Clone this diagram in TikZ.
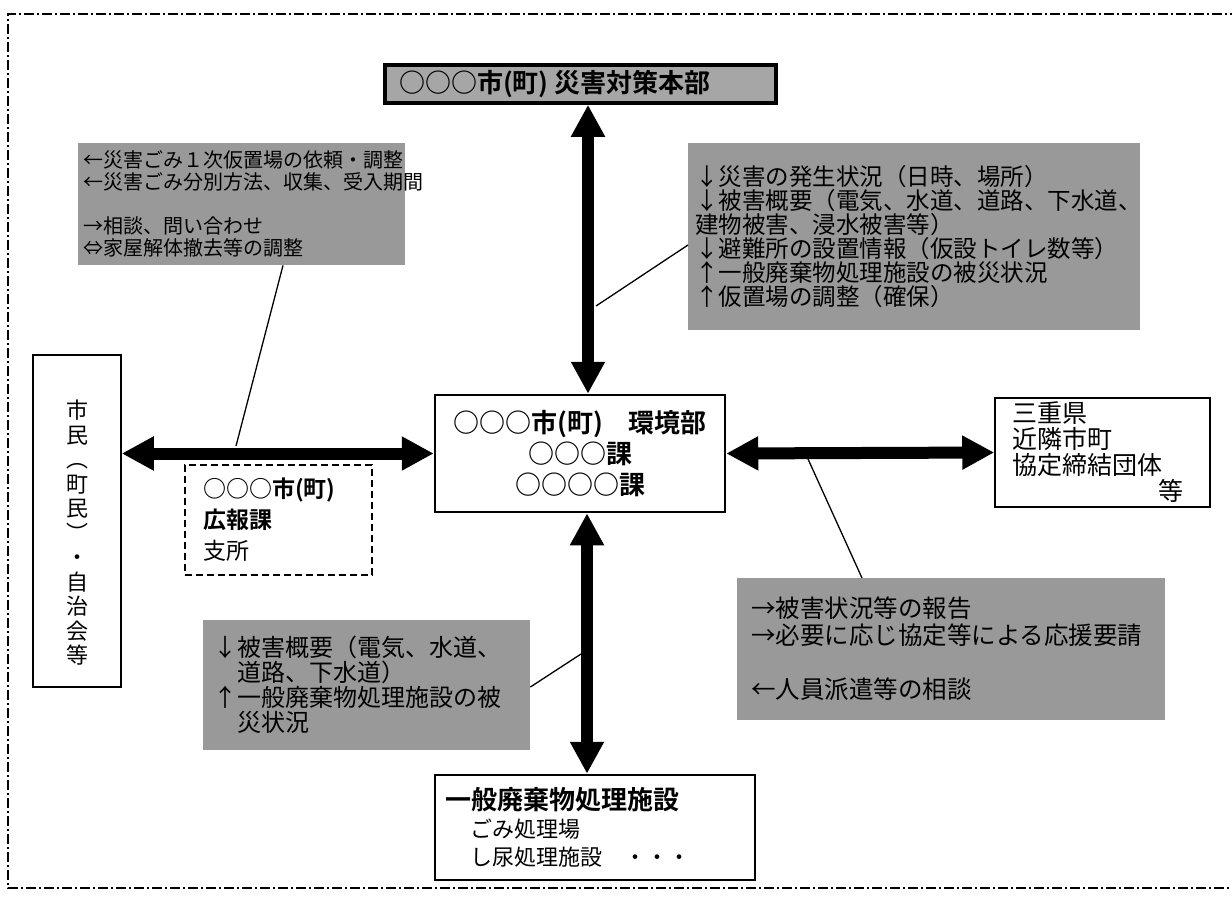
\documentclass[tikz,border=0pt]{standalone}
\usepackage{fontspec}
\setmainfont{Noto Sans CJK JP}[BoldFont={Noto Sans CJK JP Bold}]
\usetikzlibrary{arrows.meta, calc}

\newcommand{\fs}[2]{\fontsize{#1}{#2}\selectfont}

\begin{document}
\begin{tikzpicture}[
    x=1pt, y=-1pt,
    box_main/.style={draw, fill=white, inner sep=0pt},
    note_box/.style={fill=black!40, anchor=north west, align=left, inner ysep=0pt},
    big_arrow/.style={{Triangle[width=32pt,length=32pt]}-{Triangle[width=32pt,length=32pt]}, line width=12pt},
    pointer/.style={line width=1.3pt},
    frame_line/.style={line width=2.2pt, dash pattern=on 10pt off 3pt on 2pt off 3pt}
]
\useasboundingbox (0,0) rectangle (1232,897);

% outer frame
\draw[frame_line] (1240,14) -- (8,14) -- (8,888) -- (1240,888);

% main boxes
\node[box_main, fill=black!35, line width=3.5pt, minimum height=38pt, text width=363pt, inner xsep=14pt,
      align=left, font=\fs{26}{28}\bfseries] (honbu) at (580.5,84) {○○○市(町)\hspace{6pt}災害対策本部};
\node[box_main, line width=2.5pt, minimum width=290pt, minimum height=117pt, align=center,
      font=\fs{26}{31}\bfseries] (kankyo) at (580,453.5) {○○○市(町)　環境部\\○○○課\\○○○○課};
\node[box_main, line width=1.5pt, minimum height=109pt, text width=181pt, inner xsep=17pt,
      align=left, font=\fs{25}{26}] (ken) at (1102.5,452.5) {三重県\\近隣市町\\協定締結団体\\\makebox[171pt][r]{等}};
\node[box_main, line width=1.5pt, minimum width=88pt, minimum height=332pt, text width=30pt, align=center,
      font=\fs{22}{24.5}] (shimin) at (77,521)
      {\lineskiplimit=-100pt\relax\rule{0pt}{42pt}市\\民\\︵\\町\\民\\︶\\・\\自\\治\\会\\等};
\node[box_main, line width=1.6pt, dash pattern=on 7pt off 4pt, minimum height=110pt, text width=151pt,
      inner xsep=18pt, align=left, font=\fs{23}{31}] (kouhou) at (278.5,520) {\bfseries ○○○市(町)\\広報課\\\mdseries 支所};
\node[box_main, line width=2.5pt, minimum height=105pt, text width=300pt, inner xsep=10pt,
      align=left, font=\fs{22}{28}] (shisetsu) at (595,827.5)
      {{\fs{26}{28}\bfseries 一般廃棄物処理施設}\\\hspace*{25pt}ごみ処理場\\\hspace*{25pt}し尿処理施設　・・・};

% notes
\node[note_box, minimum height=122pt, text width=317pt, inner xsep=5pt, font=\fs{20}{22}] (noteTL) at (78,143)
      {←災害ごみ１次仮置場の依頼・調整\\←災害ごみ分別方法、収集、受入期間\\[22pt]→相談、問い合わせ\\⇔家屋解体撤去等の調整};
\node[note_box, minimum height=187pt, text width=438pt, inner xsep=7pt, font=\fs{23.5}{24}] (noteTR) at (688,143)
      {↓災害の発生状況（日時、場所）\\↓被害概要（電気、水道、道路、下水道、\\建物被害、浸水被害等）\\↓避難所の設置情報（仮設トイレ数等）\\↑一般廃棄物処理施設の被災状況\\↑仮置場の調整（確保）};
\node[note_box, minimum height=130pt, text width=307pt, inner xsep=10pt, font=\fs{24}{25}] (noteBL) at (203,620)
      {↓被害概要（電気、水道、\\　道路、下水道）\\↑一般廃棄物処理施設の被\\　災状況};
\node[note_box, minimum height=142pt, text width=400pt, inner xsep=14pt, font=\fs{24.5}{27}] (noteBR) at (737,578)
      {→被害状況等の報告\\→必要に応じ協定等による応援要請\\[27pt]←人員派遣等の相談};

% arrows
\draw[big_arrow] (588,0 |- honbu.south) -- (588,0 |- kankyo.north);
\draw[big_arrow] (kankyo.west -| shimin.east) -- (kankyo.west);
\draw[big_arrow] (kankyo.east) -- (ken.west);
\draw[big_arrow] (587,0 |- kankyo.south) -- (587,0 |- shisetsu.north);

% pointers
\coordinate (onL) at (236,446);
\coordinate (onT) at (596,306);
\coordinate (onB) at (581,654);
\coordinate (onR) at (808,459);
\draw[pointer] (noteTL.south -| 283,0) -- (onL);
\draw[pointer] (noteTR.west |- 0,245) -- (onT);
\draw[pointer] (noteBL.east |- 0,687) -- (onB);
\draw[pointer] (noteBR.north -| 862,0) -- (onR);

\end{tikzpicture}
\end{document}
